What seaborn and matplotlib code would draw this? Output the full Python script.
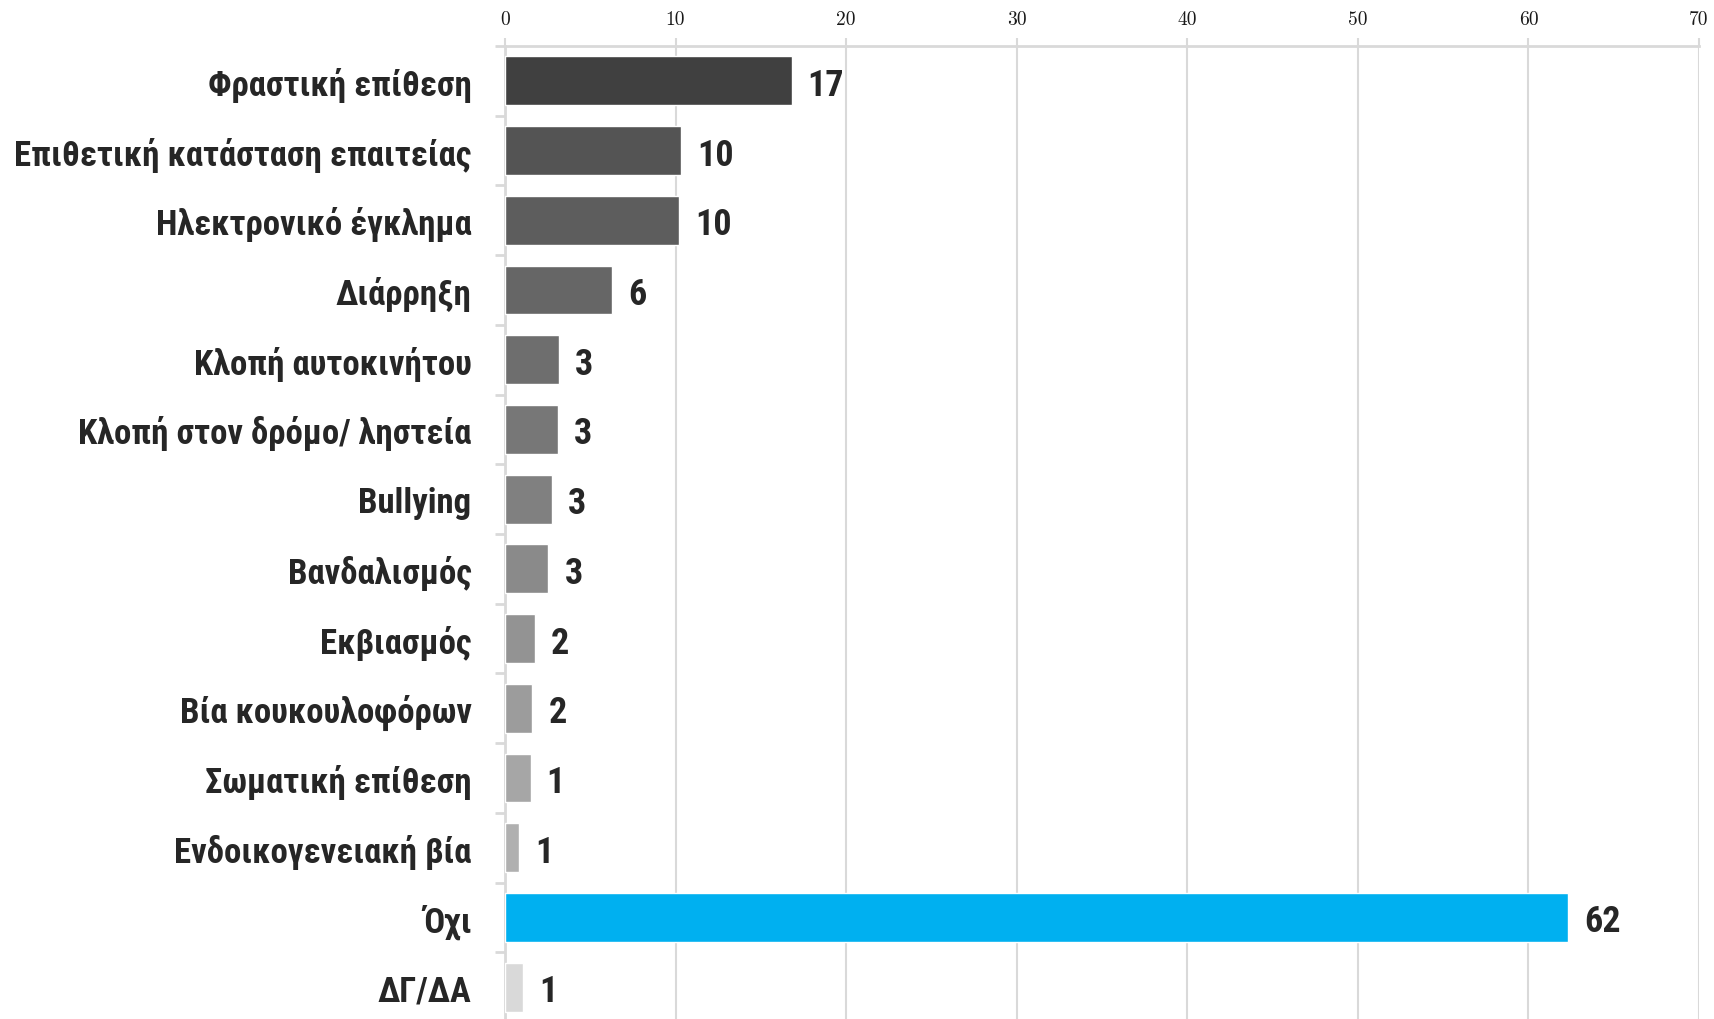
import matplotlib
matplotlib.use("Agg")
import matplotlib.pyplot as plt
import seaborn as sns
import pandas as pd

# Δεδομένα (τιμές διαβασμένες από το διάγραμμα)
categories = [
    'Φραστική επίθεση',
    'Επιθετική κατάσταση επαιτείας',
    'Ηλεκτρονικό έγκλημα',
    'Διάρρηξη',
    'Κλοπή αυτοκινήτου',
    'Κλοπή στον δρόμο/ ληστεία',
    'Bullying',
    'Βανδαλισμός',
    'Εκβιασμός',
    'Βία κουκουλοφόρων',
    'Σωματική επίθεση',
    'Ενδοικογενειακή βία',
    'Όχι',
    'ΔΓ/ΔΑ',
]
values = [16.8, 10.3, 10.2, 6.3, 3.15, 3.1, 2.75, 2.55, 1.75, 1.6, 1.5, 0.8, 62.3, 1.05]
value_labels = ['17', '10', '10', '6', '3', '3', '3', '3', '2', '2', '1', '1', '62', '1']
bar_colors = ['#404040', '#545454', '#5d5d5d', '#666666', '#6e6e6e', '#777777', '#808080',
              '#8a8a8a', '#939393', '#9c9c9c', '#a6a6a6', '#b0b0b0', '#00b0f0', '#d9d9d9']
x_ticks = [0, 10, 20, 30, 40, 50, 60, 70]

df = pd.DataFrame({'cat': categories, 'val': values})

sns.set_theme(style='white')
plt.rcParams['font.family'] = ['Liberation Sans Narrow', 'Roboto Condensed', 'Arial Narrow',
                               'Liberation Sans', 'DejaVu Sans']

grey = '#d9d9d9'
txt = '#262626'

fig = plt.figure(figsize=(17.14, 10.2), dpi=100)
ax = fig.add_axes([0.2946, -0.003, 0.6967, 0.957])

sns.barplot(data=df, y='cat', x='val', hue='cat', palette=bar_colors, orient='h',
            width=0.7, saturation=1, legend=False, ax=ax, zorder=3)

# Etiquetas de valores
for i, (v, lab) in enumerate(zip(values, value_labels)):
    ax.text(v + 0.95, i, lab, va='center_baseline', ha='left', fontsize=26,
            fontweight='bold', color=txt)

ax.set_xlim(0, 70)
ax.set_ylim(len(categories) - 0.5, -0.5)
ax.set_xlabel('')
ax.set_ylabel('')

# Eje X arriba
ax.xaxis.tick_top()
ax.set_xticks(x_ticks)
ax.set_xticklabels([str(t) for t in x_ticks], fontfamily='cmr10', fontsize=14, color='#1a1a1a')
ax.tick_params(axis='x', which='major', length=6, width=1.5, color=grey, pad=7, top=True, bottom=False)
ax.grid(axis='x', color=grey, linewidth=1.5, zorder=0)
ax.grid(axis='y', visible=False)

# Eje Y
ax.set_yticks(range(len(categories)))
ax.set_yticklabels(categories, fontsize=25, fontweight='bold', color=txt)
ax.tick_params(axis='y', which='major', length=0, pad=24)
ax.set_yticks([i - 0.5 for i in range(len(categories) + 1)], minor=True)
ax.tick_params(axis='y', which='minor', length=7, width=2, color=grey, left=True)

for side in ['right', 'bottom']:
    ax.spines[side].set_visible(False)
for side in ['left', 'top']:
    ax.spines[side].set_color(grey)
    ax.spines[side].set_linewidth(2)

fig.savefig('out.png', dpi=100)
